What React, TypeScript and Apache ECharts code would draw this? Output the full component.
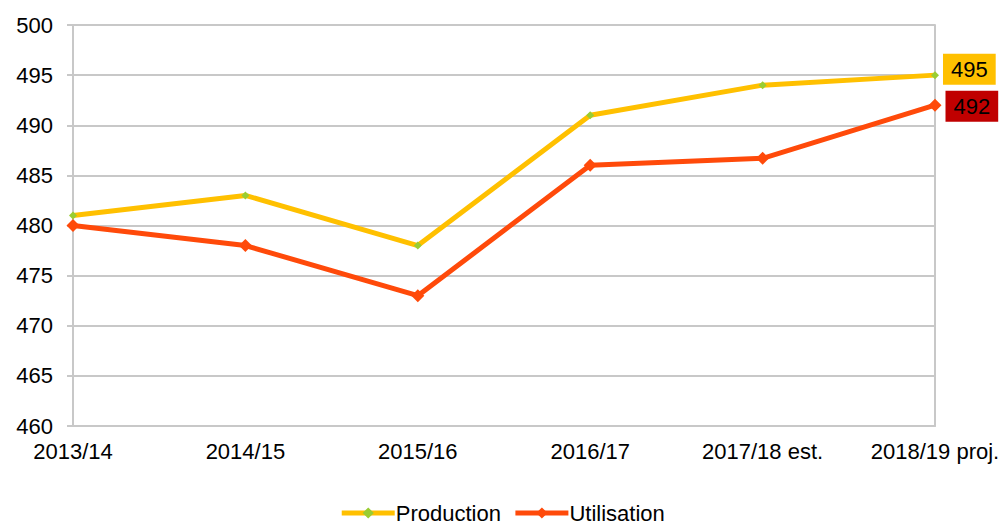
import React, { useEffect, useRef } from "react";
import * as echarts from "echarts";

const categories = ["2013/14", "2014/15", "2015/16", "2016/17", "2017/18 est.", "2018/19 proj."];
const production = [481, 483, 478, 491, 494, 495];
const utilisation = [480, 478, 473, 486, 486.7, 492];
const yTicks = { min: 460, max: 500, interval: 5 };

export default function App() {
  const ref = useRef<HTMLDivElement>(null);
  useEffect(() => {
    const chart = echarts.init(ref.current!, null, { renderer: "svg" });
    const font = "Liberation Sans, Arial, sans-serif";
    const lastIdx = production.length - 1;
    chart.setOption({
      animation: false,
      grid: { left: 73, right: 69, top: 25, bottom: 99 },
      legend: {
        top: 502,
        left: "center",
        padding: 0,
        itemWidth: 53,
        itemHeight: 14,
        itemGap: 12,
        textStyle: { fontFamily: font, fontSize: 22, lineHeight: 22, color: "#000", padding: [0, 0, 0, -4] },
        data: [
          { name: "Production", lineStyle: { width: 5 } },
          { name: "Utilisation", lineStyle: { width: 5 } },
        ],
      },
      xAxis: {
        type: "category",
        data: categories,
        boundaryGap: false,
        axisLine: { show: true, lineStyle: { color: "#c8c8c8", width: 2 } },
        axisTick: { show: false },
        axisLabel: { fontFamily: font, fontSize: 22, color: "#000", margin: 14, interval: 0 },
        splitLine: { show: false },
      },
      yAxis: [
        {
          type: "value",
          min: yTicks.min,
          max: yTicks.max,
          interval: yTicks.interval,
          axisLine: { show: true, lineStyle: { color: "#c8c8c8", width: 2 } },
          axisTick: { show: true, length: 6, lineStyle: { color: "#c8c8c8", width: 2 } },
          axisLabel: { fontFamily: font, fontSize: 22, color: "#000", margin: 20 },
          splitLine: { show: true, lineStyle: { color: "#c8c8c8", width: 2 } },
        },
        {
          type: "value",
          position: "right",
          min: yTicks.min,
          max: yTicks.max,
          interval: yTicks.interval,
          axisLine: { show: true, lineStyle: { color: "#c8c8c8", width: 2 } },
          axisTick: { show: false },
          axisLabel: { show: false },
          splitLine: { show: false },
        },
      ],
      series: [
        {
          name: "Production",
          type: "line",
          data: production.map((v, i) =>
            i === lastIdx
              ? {
                  value: v,
                  label: {
                    show: true,
                    position: "right",
                    offset: [0, -6],
                    distance: 4,
                    backgroundColor: "#FFC000",
                    color: "#000",
                    fontFamily: font,
                    fontSize: 22,
                    padding: [5, 8, 4, 8],
                    formatter: "{c}",
                  },
                }
              : v
          ),
          z: 3,
          symbol: "diamond",
          symbolSize: 8,
          itemStyle: { color: "#9ACD32", borderWidth: 0 },
          lineStyle: { color: "#FFC000", width: 5 },
          color: "#FFC000",
        },
        {
          name: "Utilisation",
          type: "line",
          data: utilisation.map((v, i) =>
            i === lastIdx
              ? {
                  value: v,
                  label: {
                    show: true,
                    position: "right",
                    offset: [0, 1],
                    distance: 4,
                    backgroundColor: "#C00000",
                    color: "#000",
                    fontFamily: font,
                    fontSize: 22,
                    padding: [5, 8, 4, 8],
                    formatter: "{c}",
                  },
                }
              : v
          ),
          z: 2,
          symbol: "diamond",
          symbolSize: 13,
          itemStyle: { color: "#FF4A0A", borderWidth: 0 },
          lineStyle: { color: "#FF4A0A", width: 5 },
          color: "#FF4A0A",
        },
      ],
    });
    return () => chart.dispose();
  }, []);
  return (
    <div
      ref={ref}
      style={{ position: "absolute", left: 0, top: 0, width: 1004, height: 525 }}
    />
  );
}
